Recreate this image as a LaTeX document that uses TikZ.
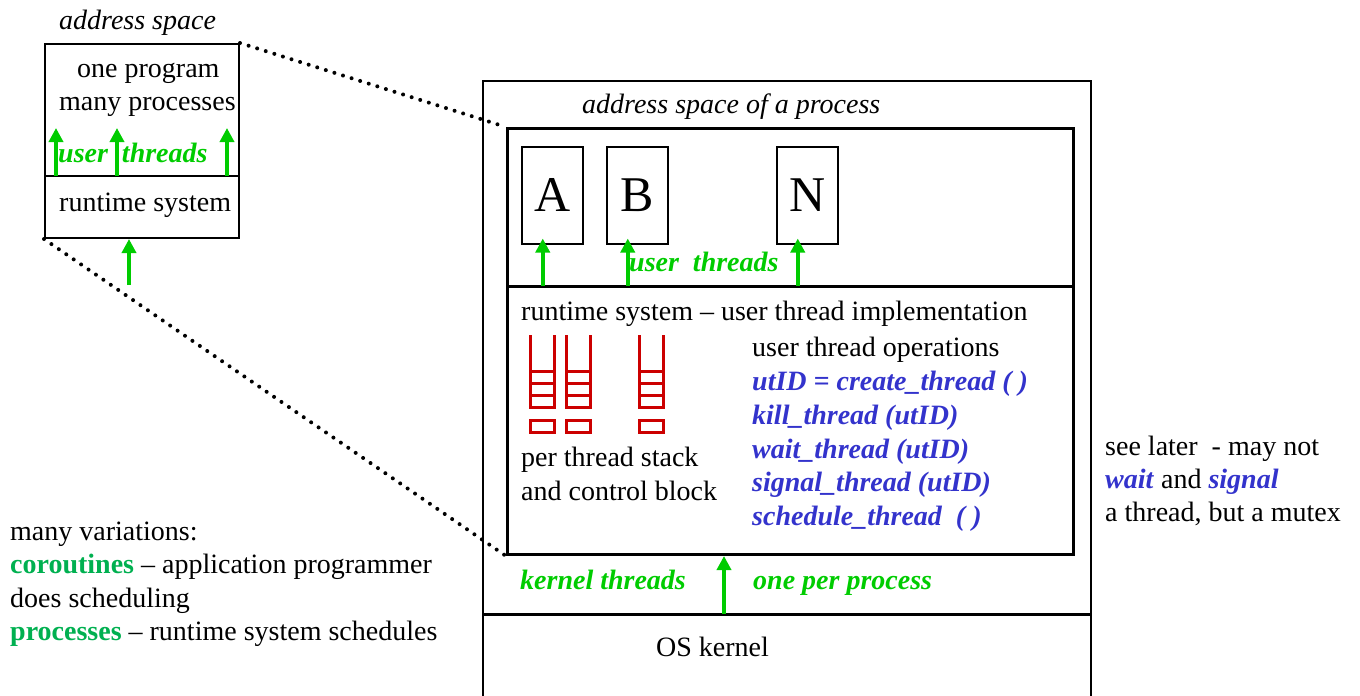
\documentclass[tikz,border=0pt]{standalone}
\usepackage{fontspec}
\setmainfont{Liberation Serif}
\usetikzlibrary{arrows.meta, positioning, calc}
\definecolor{ugreen}{RGB}{0,204,0}
\definecolor{vgreen}{RGB}{0,176,80}
\definecolor{opblue}{RGB}{51,51,204}
\definecolor{stackred}{RGB}{204,0,0}
\newcommand{\txtsize}{\fontsize{28}{33}\selectfont}

\begin{document}
\begin{tikzpicture}[x=1pt,y=-1pt,
    txt/.style={inner sep=0pt, anchor=base west, font=\txtsize},
    itxt/.style={txt, font=\txtsize\itshape},
    gtxt/.style={txt, ugreen, font=\txtsize\bfseries\itshape},
    op/.style={txt, opblue, font=\txtsize\bfseries\itshape},
    box/.style={draw, line width=2pt, inner sep=0pt, anchor=north west},
    tbox/.style={draw, line width=1.5pt, inner sep=0pt, anchor=north west,
        minimum width=61pt, minimum height=97pt, font=\fontsize{50}{50}\selectfont},
    up/.style={ugreen, line width=4pt, -{Triangle[width=14pt,length=14pt]}},
    dots/.style={line width=4pt, line cap=round, dash pattern=on 0pt off 9pt},
    stk/.style={stackred, line width=3pt, line join=miter}]
    \useasboundingbox (0,0) rectangle (1360,696);

    % one program, many processes
    \node[itxt] (astitle) at (59,29) {address space};
    \node[box, minimum width=194pt, minimum height=194pt] (as) at (44,43) {};
    \coordinate (asdiv) at (44,176);
    \draw[line width=2pt] (asdiv) -- (asdiv -| as.east);
    \node[txt] (prog) at (77,77) {one program};
    \node[txt] (procs) at (59,110) {many processes};
    \node[gtxt] (asut) at (58,162) {user\ \ threads};
    \node[txt] (asrt) at (59,211) {runtime system};
    \foreach \ax in {56,117,227}
        \draw[up] (\ax,176) -- (\ax,128);
    \coordinate (askt) at (129,285);
    \draw[up] (askt) -- (askt |- as.south);

    % one process in detail
    \node[box, minimum width=608pt, minimum height=640pt] (host) at (482,80) {};
    \node[itxt] (ptitle) at (582,113) {address space of a process};
    \node[box, line width=3pt, minimum width=566pt, minimum height=426pt] (proc) at (506,127) {};
    \coordinate (rtop) at (506,286);
    \draw[line width=3pt] (rtop) -- (rtop -| proc.east);
    \coordinate (kern) at (482,614);
    \draw[line width=3pt] (kern) -- (kern -| host.east);

    \draw[dots] (as.north east) -- (proc.north west);
    \draw[dots] (as.south west) -- (proc.south west);

    \node[tbox] (A) at (521,146) {A};
    \node[tbox] (B) at (606,146) {B};
    \node[tbox] (N) at (776,146) {N};
    \foreach \t in {A,B,N}
        \draw[up] ([xshift=-9.5pt]\t.south |- rtop) -- ([xshift=-9.5pt,yshift=6pt]\t.south);
    \node[gtxt] (ut) at (629,271) {user\ \ threads};

    \node[txt] (rt) at (521,320) {runtime system -- user thread implementation};
    \node[txt] (ops) at (752,356) {user thread operations};
    \node[op] (op1) at (752,390) {utID = create\_thread ( )};
    \node[op] (op2) at (752,424) {kill\_thread (utID)};
    \node[op] (op3) at (752,458) {wait\_thread (utID)};
    \node[op] (op4) at (752,491) {signal\_thread (utID)};
    \node[op] (op5) at (752,525) {schedule\_thread\ \ ( )};

    % stacks and control blocks
    \foreach \sx in {530,566,639} {
        \draw[stk] (\sx,335) -- (\sx,407) -- (\sx+24,407) -- (\sx+24,335);
        \foreach \ry in {371,383,395}
            \draw[stk] (\sx,\ry) -- (\sx+24,\ry);
        \draw[stk] (\sx,420) rectangle (\sx+24,432);
    }
    \node[txt] (stk1) at (521,466) {per thread stack};
    \node[txt] (stk2) at (521,500) {and control block};

    \node[gtxt] (kt) at (520,589) {kernel threads};
    \node[gtxt] (opp) at (753,589) {one per process};
    \coordinate (ktail) at (724,614);
    \draw[up] (ktail) -- (ktail |- proc.south);
    \node[txt] (os) at (656,656) {OS kernel};

    % notes
    \node[txt] (n1) at (1105,455) {see later\ \ - may not};
    \node[txt] (n2) at (1105,488) {\textcolor{opblue}{\textbf{\textit{wait}}} and \textcolor{opblue}{\textbf{\textit{signal}}}};
    \node[txt] (n3) at (1105,521) {a thread, but a mutex};

    \node[txt] (v1) at (10,540) {many variations:};
    \node[txt] (v2) at (10,573) {\textcolor{vgreen}{\textbf{coroutines}} -- application programmer};
    \node[txt] (v3) at (10,607) {does scheduling};
    \node[txt] (v4) at (10,640) {\textcolor{vgreen}{\textbf{processes}} -- runtime system schedules};
\end{tikzpicture}
\end{document}
